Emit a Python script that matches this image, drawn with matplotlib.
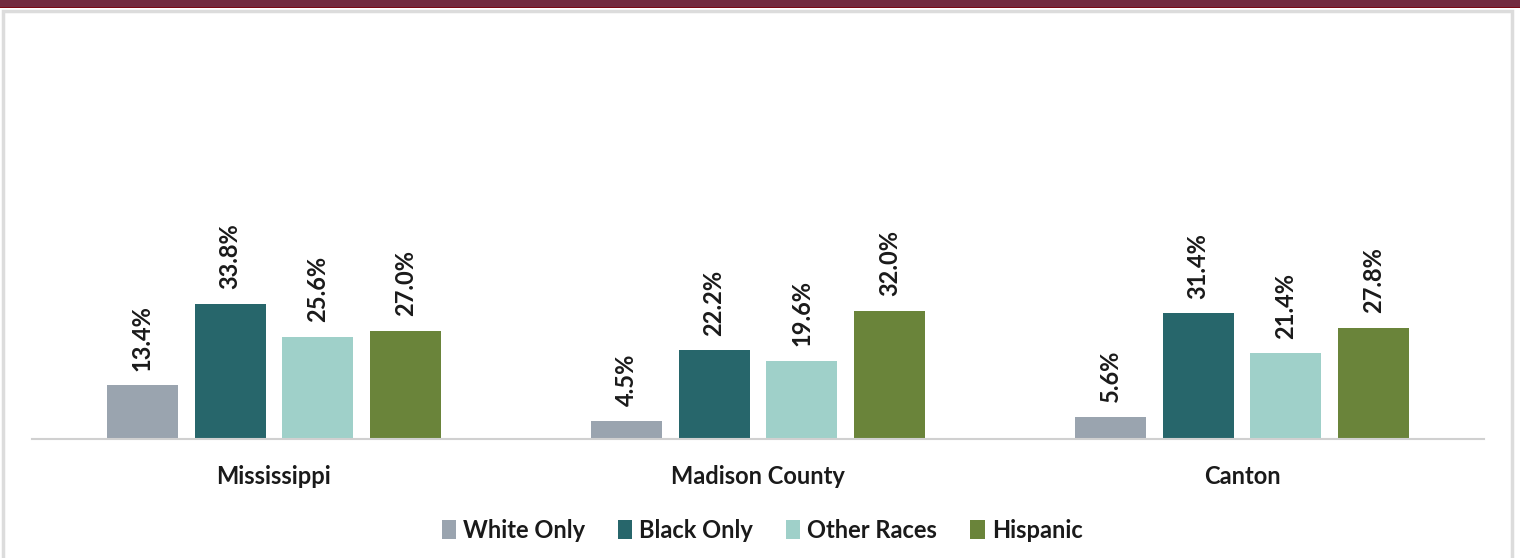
import matplotlib
matplotlib.use('Agg')
import matplotlib.pyplot as plt
import numpy as np
from matplotlib.patches import Rectangle

# data (percent)
places = ['Mississippi', 'Madison County', 'Canton']
groups = ['White Only', 'Black Only', 'Other Races', 'Hispanic']
white_only = [13.4, 4.5, 5.6]
black_only = [33.8, 22.2, 31.4]
other_races = [25.6, 19.6, 21.4]
hispanic = [27.0, 32.0, 27.8]
colors = ['#9aa4af', '#27666b', '#9fd0c9', '#6a843a']

plt.rcParams['font.family'] = ['Lato', 'DejaVu Sans']

fig = plt.figure(figsize=(15.2, 5.58), dpi=100)

# maroon band at top and the light panel frame
fig.patches.append(Rectangle((0, 1 - 7 / 558), 1, 7 / 558, transform=fig.transFigure,
                             facecolor='#722b3f', edgecolor='none', zorder=0))
fig.patches.append(Rectangle((0, 1 - 8 / 558), 1, 1.5 / 558, transform=fig.transFigure,
                             facecolor='#7a0a14', edgecolor='none', zorder=0))
fig.patches.append(Rectangle((3 / 1520, -0.01), 1509 / 1520, 1 - 11 / 558 + 0.01,
                             transform=fig.transFigure, facecolor='white',
                             edgecolor='#dcdcdc', linewidth=2.5, zorder=0))

ax = fig.add_axes([32 / 1520, 1 - 439 / 558, 1452 / 1520, 399 / 558])
ax.patch.set_alpha(0)
ax.set_zorder(2)

series = [white_only, black_only, other_races, hispanic]
x = np.arange(len(places))
step = 0.1818
width = 0.1467
for i, (vals, name, c) in enumerate(zip(series, groups, colors)):
    xs = x + (i - 1.5) * step
    bars = ax.bar(xs, vals, width, color=c, label=name, zorder=2)
    for b, v in zip(bars, vals):
        ax.annotate(f'{v:.1f}%', (b.get_x() + b.get_width() / 2, v),
                    xytext=(0, 10.5), textcoords='offset points',
                    rotation=90, ha='center', va='bottom',
                    fontsize=17, fontweight='bold', color='#1a1a1a')

ax.set_xlim(-0.5, 2.5)
ax.set_ylim(0, 99.75)
ax.set_yticks([])
ax.set_xticks(x)
ax.set_xticklabels(places, fontsize=17, fontweight='bold', color='#1a1a1a')
ax.tick_params(axis='x', length=0, pad=19)
for s in ['top', 'right', 'left']:
    ax.spines[s].set_visible(False)
ax.spines['bottom'].set_color('#d0d0d0')
ax.spines['bottom'].set_linewidth(1.5)

leg = fig.legend(loc='center', bbox_to_anchor=(762 / 1520, 1 - 530 / 558), ncol=4,
                 frameon=False, fontsize=17, handlelength=0.6, handleheight=0.9,
                 handletextpad=0.3, columnspacing=1.4)
leg.set_zorder(3)
for t in leg.get_texts():
    t.set_fontweight('bold')
    t.set_color('#1a1a1a')

fig.savefig('out.png', dpi=100)
